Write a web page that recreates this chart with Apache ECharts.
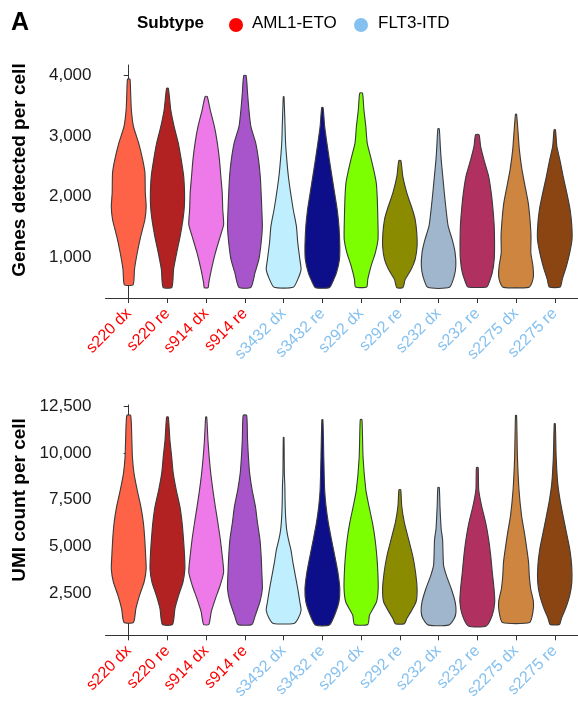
<!DOCTYPE html>
<html><head><meta charset="utf-8">
<script src="https://cdn.jsdelivr.net/npm/echarts@6/dist/echarts.min.js"></script>
<style>html,body{margin:0;padding:0;background:#fff}#c{width:578px;height:702px}</style>
</head><body><div id="c"></div>
<script>
// ---------- data ----------
const categories = ['s220 dx','s220 re','s914 dx','s914 re','s3432 dx','s3432 re','s292 dx','s292 re','s232 dx','s232 re','s2275 dx','s2275 re'];
const subtypes = ['AML1-ETO','AML1-ETO','AML1-ETO','AML1-ETO','FLT3-ITD','FLT3-ITD','FLT3-ITD','FLT3-ITD','FLT3-ITD','FLT3-ITD','FLT3-ITD','FLT3-ITD'];
const fillColors = ['#FF6347','#B22222','#EE7AE9','#A855CC','#BFEFFF','#0D0F8A','#7CFF00','#8B8B00','#9FB6CD','#B03060','#CD853F','#8B4513'];
const legendNames = ['AML1-ETO','FLT3-ITD'];
const legendColors = ['#FF0000','#85C1F0'];
const genesTicks = [1000,2000,3000,4000];
const umiTicks = [2500,5000,7500,10000,12500];

// violin outlines: levels (value) and relative half-widths, bottom to top
const genesLevels = [
  [545,798,1073,1347,1622,1842,2061,2391,2611,2885,3160,3435,3710,3940],
  [501,798,1073,1347,1622,1842,2061,2336,2611,2885,3160,3435,3792],
  [496,578,798,1073,1347,1540,1787,2061,2336,2611,2885,3160,3435,3654],
  [501,743,963,1238,1512,1787,2061,2336,2611,2885,3160,3435,3710,4000],
  [501,633,798,963,1238,1512,1787,2061,2336,2611,2885,3160,3654],
  [496,578,743,963,1183,1512,1787,2061,2336,2611,2885,3160,3473],
  [507,633,853,1073,1292,1512,1952,2226,2446,2666,2885,3160,3435,3710],
  [496,633,798,963,1183,1402,1622,1787,2061,2336,2594],
  [501,688,853,1073,1292,1512,1787,2061,2336,2611,2830,3122],
  [507,578,743,963,1183,1512,1787,2061,2336,2611,2830,3023],
  [501,578,688,853,1073,1347,1622,1897,2171,2446,2776,3050,3363],
  [507,633,853,1073,1292,1512,1787,2061,2336,2611,2830,3105]
];
const genesWidths = [
  [0.25,0.33,0.49,0.69,0.93,1.0,0.95,0.93,0.8,0.57,0.27,0.15,0.11,0.07],
  [0.25,0.35,0.53,0.73,0.89,0.97,0.98,0.93,0.79,0.62,0.38,0.19,0.05],
  [0.11,0.15,0.3,0.53,0.81,1.0,0.95,0.92,0.84,0.76,0.64,0.47,0.23,0.06],
  [0.34,0.58,0.8,0.93,1.0,0.97,0.93,0.88,0.78,0.62,0.34,0.23,0.15,0.07],
  [0.55,0.81,1.0,0.93,0.81,0.73,0.55,0.4,0.27,0.18,0.11,0.08,0.02],
  [0.4,0.57,0.81,0.98,1.0,0.95,0.85,0.7,0.55,0.4,0.26,0.13,0.04],
  [0.32,0.38,0.57,0.82,0.97,0.97,0.93,0.87,0.72,0.54,0.35,0.27,0.16,0.08],
  [0.17,0.31,0.65,0.88,0.99,0.97,0.88,0.72,0.4,0.17,0.06],
  [0.62,0.9,0.99,0.95,0.78,0.55,0.43,0.33,0.24,0.15,0.1,0.04],
  [0.55,0.67,0.86,0.97,0.99,0.97,0.9,0.8,0.65,0.38,0.19,0.1],
  [0.73,0.91,1.0,0.97,0.85,0.86,0.8,0.7,0.52,0.34,0.19,0.12,0.03],
  [0.31,0.43,0.67,0.86,0.99,0.98,0.88,0.69,0.48,0.29,0.12,0.04]
];
const umiLevels = [
  [927,1669,2376,3083,3789,4496,5379,6263,7146,8030,8913,9796,10680,12005],
  [821,1669,2376,3083,3789,4496,5379,6263,7146,8030,8913,9796,10680,11917],
  [821,1493,2199,2906,3613,4496,5379,6263,7146,8030,8913,9796,10680,11917],
  [821,1316,2023,2729,3613,4496,5379,6263,7146,8030,8913,9796,10680,12005],
  [874,1139,1581,2023,2729,3436,4143,4849,5379,5910,6616,7500,8206,8913,10821],
  [786,1316,2023,2729,3613,4496,5379,6263,7146,8030,9796,11775],
  [821,1316,2023,2729,3613,4496,5379,6263,7146,8030,9796,11775],
  [857,1139,1493,2023,2729,3613,4496,5379,6263,7146,8030],
  [786,1139,1493,2023,2729,3436,3966,4496,5379,5910,7146,8153],
  [733,1316,2023,2729,3613,4496,5379,6263,7146,8030,9213],
  [927,1493,2023,2729,3436,4143,4849,5733,6616,8030,9796,12005],
  [821,1139,1669,2376,3083,3966,4849,5733,6616,7500,8383,9796,11563]
];
const umiWidths = [
  [0.27,0.41,0.62,0.88,1.0,0.97,0.92,0.84,0.69,0.48,0.3,0.21,0.18,0.11],
  [0.29,0.43,0.64,0.89,1.0,0.98,0.92,0.84,0.71,0.5,0.33,0.24,0.14,0.05],
  [0.15,0.29,0.53,0.8,1.0,0.92,0.81,0.67,0.52,0.38,0.26,0.17,0.1,0.03],
  [0.4,0.6,0.86,1.0,0.97,0.93,0.86,0.72,0.6,0.41,0.27,0.2,0.15,0.1],
  [0.59,0.83,1.0,0.93,0.81,0.67,0.53,0.41,0.27,0.17,0.11,0.08,0.07,0.04,0.02],
  [0.4,0.7,0.95,1.0,0.89,0.71,0.52,0.34,0.21,0.13,0.08,0.03],
  [0.38,0.48,0.88,0.98,0.96,0.9,0.8,0.65,0.45,0.27,0.11,0.05],
  [0.26,0.4,0.63,0.93,0.99,0.9,0.74,0.5,0.26,0.11,0.05],
  [0.57,0.9,1.0,0.95,0.73,0.45,0.29,0.26,0.23,0.15,0.08,0.04],
  [0.51,0.86,1.0,0.96,0.86,0.77,0.65,0.48,0.25,0.08,0.05],
  [0.78,0.97,1.0,0.84,0.76,0.72,0.62,0.48,0.32,0.17,0.08,0.03],
  [0.27,0.38,0.62,0.86,0.98,0.97,0.86,0.67,0.48,0.3,0.17,0.08,0.03]
];

// ---------- chart ----------
const FONT = '"Liberation Sans", Arial, Helvetica, sans-serif';
const HALF = 0.45;
const catIdx = categories.map((c, i) => i);
const fmtNum = v => String(v).replace(/\B(?=(\d{3})+(?!\d))/g, ',');

function makeRender(levels, widths) {
  return function (params, api) {
    const i = api.value(0);
    const lv = levels[i], w = widths[i];
    const left = [], right = [];
    for (let j = 0; j < lv.length; j++) {
      left.push(api.coord([i - HALF * w[j], lv[j]]));
    }
    for (let j = lv.length - 1; j >= 0; j--) {
      right.push(api.coord([i + HALF * w[j], lv[j]]));
    }
    return {
      type: 'polygon',
      shape: { points: left.concat(right), smooth: 0.2 },
      style: { fill: fillColors[i], stroke: '#3a3a3a', lineWidth: 1.1 }
    };
  };
}

function xAxisDef(gridIndex) {
  return {
    type: 'value', gridIndex, min: -0.6, max: 11.6,
    splitLine: { show: false },
    axisLine: { show: true, lineStyle: { color: '#333', width: 1 } },
    axisTick: { show: true, customValues: catIdx, length: 5, lineStyle: { color: '#333' } },
    axisLabel: {
      show: true, customValues: catIdx, rotate: 45, margin: 13,
      fontFamily: FONT, fontSize: 16,
      formatter: v => {
        const k = Math.round(v);
        return '{' + (subtypes[k] === 'AML1-ETO' ? 'a' : 'f') + '|' + categories[k] + '}';
      },
      rich: {
        a: { color: legendColors[0], fontSize: 16, fontFamily: FONT },
        f: { color: legendColors[1], fontSize: 16, fontFamily: FONT }
      }
    }
  };
}
function yAxisDef(gridIndex, min, max, ticks) {
  return {
    type: 'value', gridIndex, min, max,
    splitLine: { show: false },
    axisLine: { show: true, lineStyle: { color: '#333', width: 1 } },
    axisTick: { show: true, customValues: ticks, length: 5, lineStyle: { color: '#333' } },
    axisLabel: { show: true, customValues: ticks, margin: 14, fontFamily: FONT, fontSize: 17, color: '#1a1a1a', formatter: v => fmtNum(v) }
  };
}

const chart = echarts.init(document.getElementById('c'), null, { renderer: 'canvas' });
chart.setOption({
  backgroundColor: '#fff',
  animation: false,
  grid: [
    { left: 105.5, top: 65, width: 473.5, height: 233 },
    { left: 105.5, top: 405, width: 473.5, height: 233 }
  ],
  xAxis: [xAxisDef(0), xAxisDef(1)],
  yAxis: [yAxisDef(0, 325, 4175, genesTicks), yAxisDef(1, 240, 12560, umiTicks)],
  series: [
    { type: 'custom', xAxisIndex: 0, yAxisIndex: 0, renderItem: makeRender(genesLevels, genesWidths),
      data: catIdx.map(i => [i, genesLevels[i][0]]), encode: { x: 0, y: 1 } },
    { type: 'custom', xAxisIndex: 1, yAxisIndex: 1, renderItem: makeRender(umiLevels, umiWidths),
      data: catIdx.map(i => [i, umiLevels[i][0]]), encode: { x: 0, y: 1 } }
  ],
  graphic: [
    { type: 'text', left: 11, top: 11, style: { text: 'A', font: 'bold 25px ' + FONT, fill: '#000' } },
    { type: 'text', left: 137, top: 15, style: { text: 'Subtype', font: 'bold 17px ' + FONT, fill: '#000' } },
    { type: 'circle', shape: { cx: 236, cy: 25, r: 7 }, style: { fill: legendColors[0] } },
    { type: 'text', left: 252, top: 15, style: { text: legendNames[0], font: '17px ' + FONT, fill: '#000' } },
    { type: 'circle', shape: { cx: 361, cy: 25, r: 7 }, style: { fill: legendColors[1] } },
    { type: 'text', left: 378, top: 15, style: { text: legendNames[1], font: '17px ' + FONT, fill: '#000' } },
    { type: 'text', x: 20, y: 170, rotation: Math.PI / 2,
      style: { text: 'Genes detected per cell', font: 'bold 19px ' + FONT, fill: '#000', align: 'center', verticalAlign: 'middle' } },
    { type: 'text', x: 20, y: 500, rotation: Math.PI / 2,
      style: { text: 'UMI count per cell', font: 'bold 19px ' + FONT, fill: '#000', align: 'center', verticalAlign: 'middle' } }
  ]
});
</script>
</body></html>
